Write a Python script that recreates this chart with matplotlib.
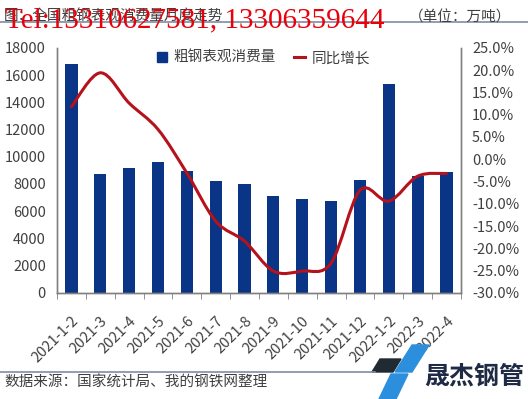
import numpy as np
import matplotlib
matplotlib.use("Agg")
import matplotlib.pyplot as plt
from matplotlib.path import Path
from matplotlib.patches import PathPatch, Polygon
from matplotlib.lines import Line2D
from matplotlib.ticker import FuncFormatter

plt.rcParams['font.family'] = ['Noto Sans CJK SC', 'DejaVu Sans']

# =====================================================
# DATA
# =====================================================

months = ["2021-1-2", "2021-3", "2021-4", "2021-5", "2021-6", "2021-7",
          "2021-8", "2021-9", "2021-10", "2021-11", "2021-12",
          "2022-1-2", "2022-3", "2022-4"]

consumption = [16850, 8770, 9160, 9600, 8940, 8250,
               7980, 7100, 6900, 6760, 8280,
               15360, 8570, 8870]

yoy = [11.8, 19.4, 12.6, 6.7, -3.1, -13.9,
       -18.4, -25.1, -25.1, -23.3, -7.0,
       -9.4, -3.8, -3.2]

bar_color = "#0a3485"
line_color = "#b5121b"
text_color = "#404040"

# =====================================================
# FIGURE
# =====================================================

fig = plt.figure(figsize=(5.28, 3.99), dpi=100)

ax = fig.add_axes([0.108, 0.266, 0.765, 0.614])
ax2 = ax.twinx()

x = np.arange(len(months))

ax.bar(x, consumption, width=0.42, color=bar_color, zorder=2)

ax.set_xlim(-0.5, len(months) - 0.5)
ax.set_ylim(0, 18000)
ax.set_yticks(np.arange(0, 18001, 2000))
ax2.set_ylim(-30, 25)
ax2.set_yticks(np.arange(-30, 25.1, 5))
ax2.yaxis.set_major_formatter(FuncFormatter(lambda v, p: "%.1f%%" % v))

# smooth line (catmull-rom -> bezier)
pts = np.column_stack([x, yoy]).astype(float)
verts = [pts[0]]
codes = [Path.MOVETO]
n = len(pts)
for i in range(n - 1):
    p0 = pts[max(i - 1, 0)]
    p1 = pts[i]
    p2 = pts[i + 1]
    p3 = pts[min(i + 2, n - 1)]
    c1 = p1 + (p2 - p0) / 6.0
    c2 = p2 - (p3 - p1) / 6.0
    verts += [c1, c2, p2]
    codes += [Path.CURVE4] * 3

curve = PathPatch(Path(verts, codes), fill=False, edgecolor=line_color,
                  linewidth=2.2, zorder=3, capstyle="round")
ax2.add_patch(curve)

# x ticks between categories
ax.set_xticks(x)
ax.set_xticklabels(months, rotation=45, ha="right", rotation_mode="anchor",
                   fontsize=10.5, color=text_color)
ax.tick_params(axis="x", which="major", length=0, pad=15)
ax.set_xticks(np.arange(-0.5, len(months), 1), minor=True)
ax.tick_params(axis="x", which="minor", length=4, color="#808080")

ax.tick_params(axis="y", length=0, labelsize=10.5, labelcolor=text_color, pad=8)
ax2.tick_params(axis="y", length=0, labelsize=10.5, labelcolor=text_color, pad=8)

for a in (ax, ax2):
    a.spines["top"].set_visible(False)
    for s in ("left", "right", "bottom"):
        a.spines[s].set_color("#808080")
        a.spines[s].set_linewidth(1.0)

# legend
handles = [Line2D([], [], marker="s", linestyle="none", color=bar_color, markersize=7),
           Line2D([], [], color=line_color, linewidth=2.2)]
ax.legend(handles, ["粗钢表观消费量", "同比增长"], loc="upper center",
          bbox_to_anchor=(0.51, 1.04), ncol=2, frameon=False,
          fontsize=10.5, labelcolor=text_color, handlelength=0.8,
          handletextpad=0.4, columnspacing=1.2)

# =====================================================
# TEXT / DECORATION
# =====================================================

fig.text(0.008, 0.975, "图：全国粗钢表观消费量月度走势", fontsize=10.5,
         color=text_color, va="top", ha="left")
fig.text(0.968, 0.975, "（单位：万吨）", fontsize=10.5,
         color=text_color, va="top", ha="right")
fig.add_artist(Line2D([0, 1], [0.945, 0.945], color="#7f8ca3", linewidth=1.2))

fig.text(0.01, 0.932, "Tel:13310627581, 13306359644", fontsize=21,
         color="#e8000b", family="Liberation Serif", va="baseline", ha="left")

fig.text(0.008, 0.03, "数据来源：国家统计局、我的钢铁网整理", fontsize=10.5,
         color=text_color, va="baseline", ha="left")
fig.add_artist(Line2D([0, 0.71], [0.067, 0.067], color="#7f8ca3", linewidth=1.2))

# logo
W, H = 528.0, 399.0


def px(xp, yp):
    return (xp / W, 1 - yp / H)


fig.add_artist(Polygon([px(372, 372), px(393, 372), px(401, 359), px(380, 359)],
                       closed=True, color="#1f2a33", transform=fig.transFigure))
fig.add_artist(Polygon([px(395, 372), px(412, 372), px(429, 345), px(412, 345)],
                       closed=True, color="#2b8fdd", transform=fig.transFigure))
fig.add_artist(Polygon([px(379, 399), px(396, 399), px(408, 374), px(391, 374)],
                       closed=True, color="#2b8fdd", transform=fig.transFigure))
fig.text(424 / W, 1 - 383 / H, "晟杰钢管", fontsize=18, fontweight="bold",
         color="#1f2a44", va="baseline", ha="left")

fig.savefig("out.png", dpi=100)
